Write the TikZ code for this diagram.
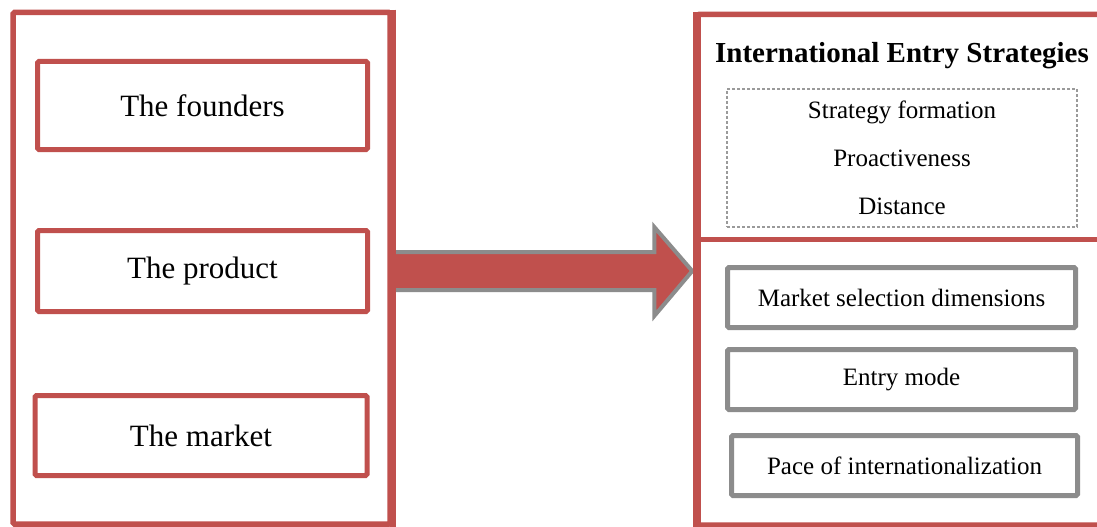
\documentclass[tikz,border=0pt]{standalone}
\usepackage{fontspec}
\setmainfont{Liberation Serif}
\usetikzlibrary{calc}
\definecolor{boxred}{HTML}{C0504D}
\definecolor{boxgray}{HTML}{8C8C8C}
\definecolor{dashgray}{HTML}{9A9A9A}
\begin{document}
\begin{tikzpicture}[x=1pt,y=-1pt,
  panel/.style={draw=boxred, line width=5.5pt, rounded corners=1.5pt, inner sep=0pt},
  redbox/.style={draw=boxred, line width=5pt, rounded corners=1.5pt, minimum width=330pt, inner sep=0pt, font=\fontsize{31}{36}\selectfont},
  graybox/.style={draw=boxgray, line width=5pt, rounded corners=1.5pt, minimum height=60pt, inner sep=0pt, font=\fontsize{25}{30}\selectfont},
  bigarrow/.style={fill=boxred, draw=boxgray, line width=4pt, line join=miter}]
\useasboundingbox (0,0) rectangle (1097,527);
\clip (0,0) rectangle (1097,527);
\fill[white] (0,0) rectangle (1097,527);
\node[panel, minimum width=377pt, minimum height=511.5pt] (lpanel) at (201.5,268.25) {};
\node[panel, minimum width=412pt, minimum height=510.5pt] (rpanel) at (904,269.75) {};
% arrow between the two panels
\coordinate (atail) at (lpanel.east |- 0,271);
\coordinate (atip) at ([xshift=-3pt]rpanel.west |- 0,271);
\draw[bigarrow] ($(atail)+(0,-19)$) -- ($(atip)+(-38,-19)$) -- ($(atip)+(-38,-44)$) -- (atip)
  -- ($(atip)+(-38,45)$) -- ($(atip)+(-38,19)$) -- ($(atail)+(0,19)$) -- cycle;
\draw[boxred, line width=5.5pt] (lpanel.north east) -- (lpanel.south east);
\draw[boxred, line width=5.5pt] (rpanel.north west) -- (rpanel.south west);
\node[redbox, minimum height=88pt] (founders) at (202.5,105.5) {The founders};
\node[redbox, minimum height=81pt] (product) at (202.5,271) {The product};
\node[redbox, minimum height=80pt, minimum width=332pt] (market) at (201,435.5) {The market};
\draw[boxred, line width=5pt] (rpanel.west |- 0,239.5) -- (rpanel.east |- 0,239.5);
\node[font=\fontsize{29}{34}\selectfont\bfseries] (title) at (902,56) {International Entry Strategies};
\node[draw=dashgray, line width=1.2pt, dash pattern=on 3pt off 2pt, minimum width=350pt, minimum height=138pt,
  align=center, inner sep=0pt, font=\fontsize{25}{48}\selectfont] (elements) at (902,158)
  {Strategy formation\\Proactiveness\\Distance};
\node[graybox, minimum width=348pt] (selection) at (901.5,297.5) {Market selection dimensions};
\node[graybox, minimum width=348pt] (mode) at (901.5,379.5) {Entry mode};
\node[graybox, minimum width=346pt] (pace) at (904.5,465.5) {Pace of internationalization};
\end{tikzpicture}
\end{document}
